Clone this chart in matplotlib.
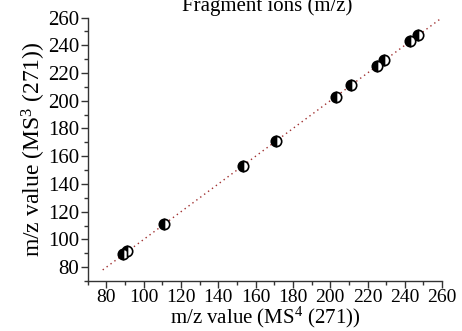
import numpy as np
import matplotlib.pyplot as plt
from matplotlib.ticker import MultipleLocator

plt.rcParams['font.family'] = ['Liberation Serif', 'DejaVu Serif']
plt.rcParams['mathtext.fontset'] = 'custom'
plt.rcParams['mathtext.rm'] = 'Liberation Serif'

# Datos
ms4 = [89, 91, 111, 153, 171, 203, 211, 225, 229, 243, 247]
ms3 = [89.5, 91.5, 111, 153, 171, 202.5, 211, 225, 229.5, 243, 247.5]
ajuste_x = [78, 260]
ajuste_y = [78, 260]

fig = plt.figure(figsize=(4.62, 3.31), dpi=100)
ax = fig.add_axes([0.19, 0.151, 0.767, 0.796])

ax.plot(ajuste_x, ajuste_y, linestyle=(0, (1, 2.5)), color='#a03030', linewidth=1.0)
ax.plot(ms4, ms3, linestyle='none', marker='o', markersize=7.5,
        fillstyle='left', markerfacecolor='black', markerfacecoloralt='white',
        markeredgecolor='black', markeredgewidth=1.2)

ax.set_xlim(70, 260)
ax.set_ylim(70, 260)
ax.xaxis.set_minor_locator(MultipleLocator(10))
ax.yaxis.set_minor_locator(MultipleLocator(10))
ax.set_xticks(np.arange(80, 261, 20))
ax.set_yticks(np.arange(80, 261, 20))

for s in ['top', 'right']:
    ax.spines[s].set_visible(False)
for s in ['left', 'bottom']:
    ax.spines[s].set_color('#333333')
    ax.spines[s].set_linewidth(1.0)

ax.tick_params(which='major', direction='out', length=5, width=1, color='#333333', pad=1)
ax.tick_params(which='minor', direction='out', length=3, width=1, color='#333333')
ax.tick_params(axis='x', labelsize=14)
ax.tick_params(axis='y', labelsize=15)

ax.set_xlabel('m/z value (MS$\\mathregular{^4}$ (271))', fontsize=15, labelpad=-1)
ax.set_ylabel('m/z value (MS$\\mathregular{^3}$ (271))', fontsize=17, labelpad=0)

fig.text(267 / 462, 1 - 6 / 331, 'Fragment ions (m/z)', fontsize=15,
         ha='center', va='center')

fig.savefig('out.png', dpi=100)
